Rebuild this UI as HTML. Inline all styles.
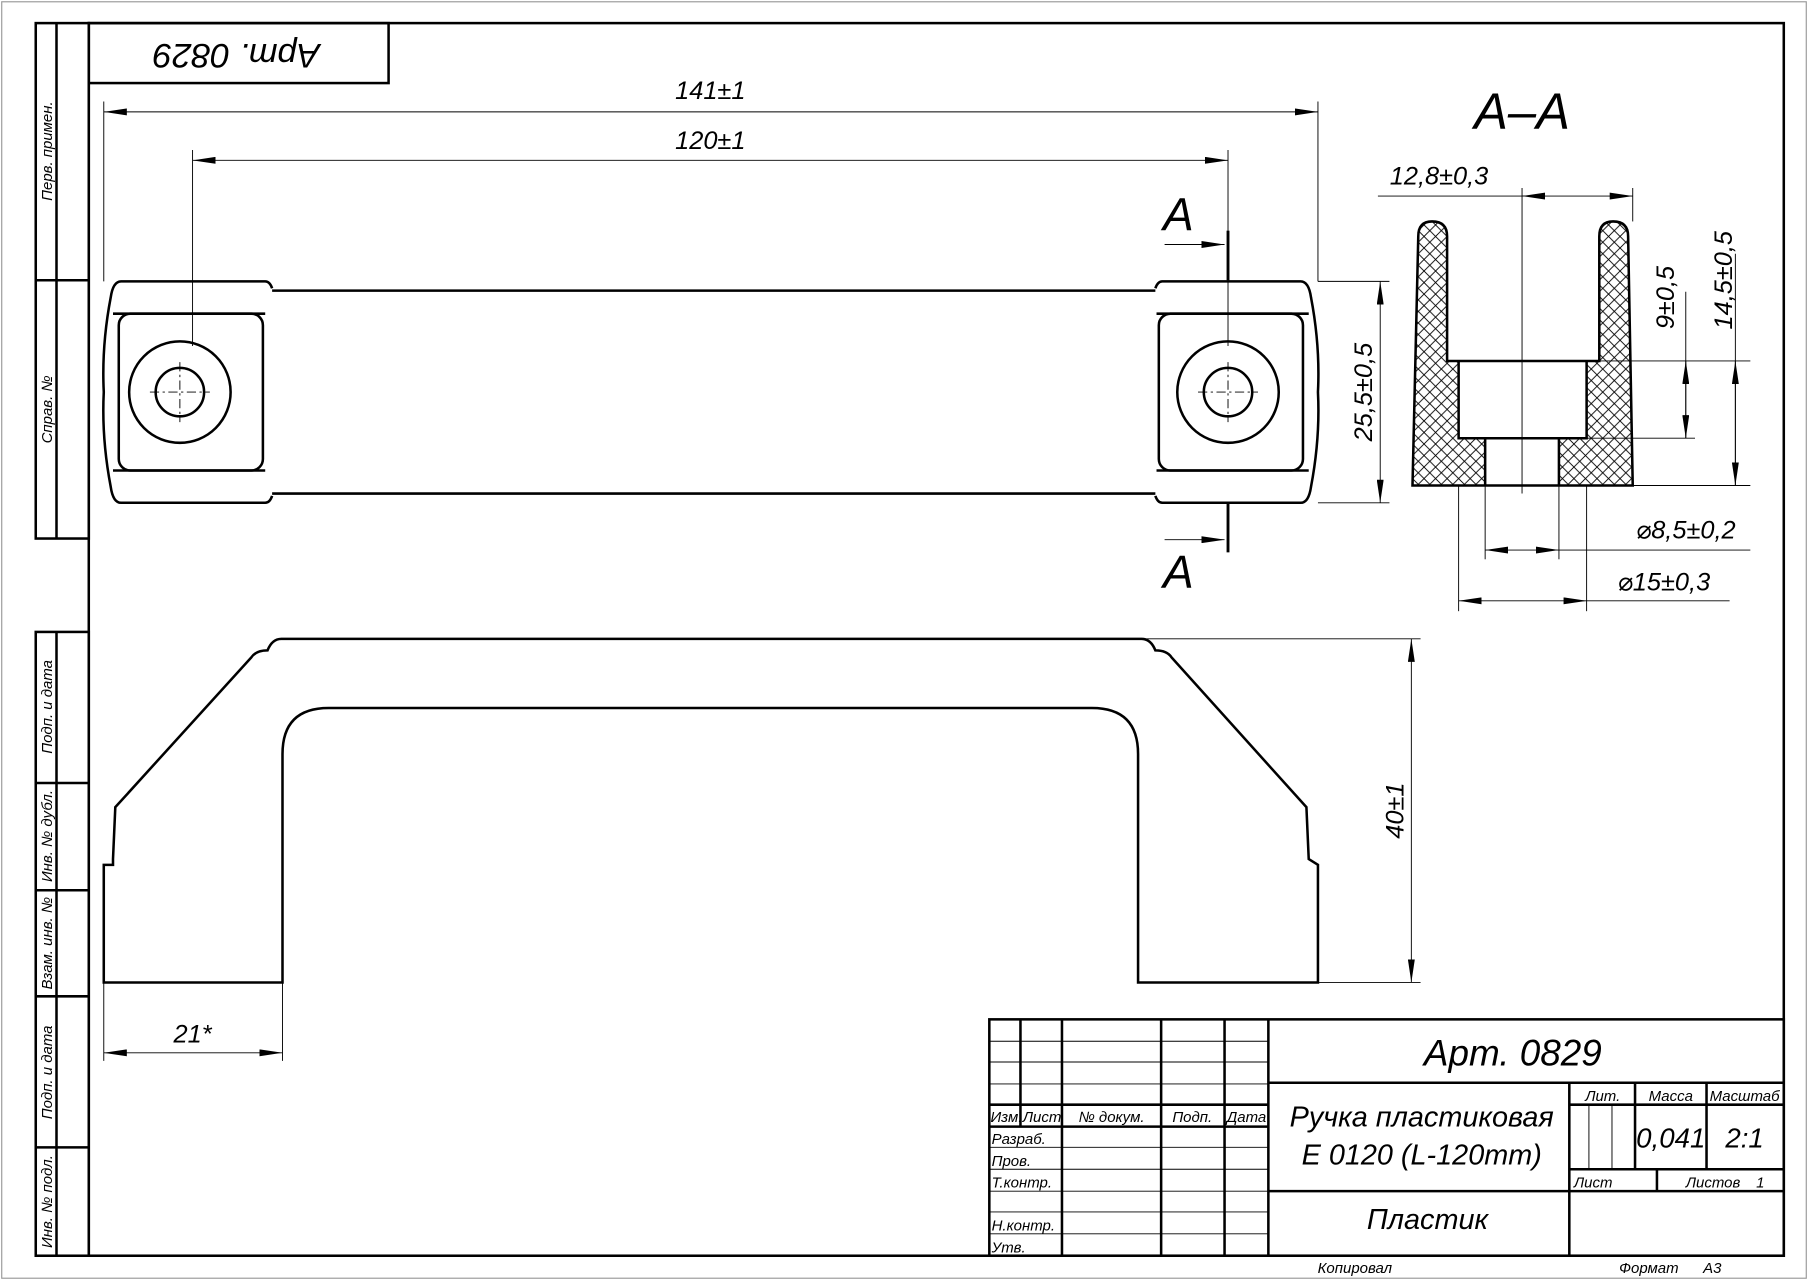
<!DOCTYPE html>
<html><head><meta charset="utf-8"><style>
html,body{margin:0;padding:0;background:#fff}
svg{display:block}
text{font-family:"Liberation Sans","DejaVu Sans",sans-serif;font-style:italic;fill:#000}
</style></head><body>
<svg width="1808" height="1280" viewBox="0 0 1568 1110" xmlns="http://www.w3.org/2000/svg">
<defs>
<pattern id="h" width="10" height="10" patternUnits="userSpaceOnUse">
<path d="M0 0L10 10M10 0L0 10" stroke="#000" stroke-width="0.8"/>
</pattern>
<marker id="ar" viewBox="0 0 20 6" refX="20" refY="3" markerWidth="20" markerHeight="6" orient="auto-start-reverse" markerUnits="userSpaceOnUse"><path d="M0 0L20 3L0 6z" fill="#000"/></marker>
</defs>
<rect x="1.5" y="1.5" width="1565" height="1107" fill="none" stroke="#999" stroke-width="1"/>
<g fill="none" stroke="#000" stroke-width="2.2">
<rect x="77" y="20" width="1470" height="1069"/>
<rect x="31" y="20" width="46" height="447"/>
<line x1="49" y1="20" x2="49" y2="467"/><line x1="31" y1="243" x2="77" y2="243"/>
<rect x="31" y="548" width="46" height="541"/>
<line x1="49" y1="548" x2="49" y2="1089"/>
<line x1="31" y1="679" x2="77" y2="679"/><line x1="31" y1="772" x2="77" y2="772"/>
<line x1="31" y1="864" x2="77" y2="864"/><line x1="31" y1="995" x2="77" y2="995"/>
<rect x="77" y="20" width="260" height="52"/>
</g>
<g font-size="13">
<text transform="translate(45,131) rotate(-90)" text-anchor="middle">Перв. примен.</text>
<text transform="translate(45,355) rotate(-90)" text-anchor="middle">Справ. №</text>
<text transform="translate(45,613) rotate(-90)" text-anchor="middle">Подп. и дата</text>
<text transform="translate(45,725) rotate(-90)" text-anchor="middle">Инв. № дубл.</text>
<text transform="translate(45,818) rotate(-90)" text-anchor="middle">Взам. инв. №</text>
<text transform="translate(45,930) rotate(-90)" text-anchor="middle">Подп. и дата</text>
<text transform="translate(45,1042) rotate(-90)" text-anchor="middle">Инв. № подл.</text>
</g>
<text transform="translate(205,38) rotate(180)" text-anchor="middle" font-size="30">Арт. 0829</text>

<!-- top view -->
<g fill="none" stroke="#000" stroke-width="2.2">
<path d="M230 244 L105 244 Q98 244 96 258 Q88 300 90 340 Q88 380 96 422 Q98 436 105 436 L230 436 Q234 436 236 430 M236 250 Q234 244 230 244"/>
<line x1="236" y1="252" x2="1002" y2="252"/><line x1="236" y1="428" x2="1002" y2="428"/>
<path d="M1008 244 L1128 244 Q1135 244 1137 258 Q1145 300 1143 340 Q1145 380 1137 422 Q1135 436 1128 436 L1008 436 Q1004 436 1002 430 M1002 250 Q1004 244 1008 244"/>
<rect x="103" y="272" width="125" height="136" rx="10"/>
<rect x="1005" y="272" width="125" height="136" rx="10"/>
<line x1="98" y1="272" x2="230" y2="272"/><line x1="98" y1="408" x2="230" y2="408"/>
<line x1="1003" y1="272" x2="1135" y2="272"/><line x1="1003" y1="408" x2="1135" y2="408"/>
<circle cx="156" cy="340" r="44"/><circle cx="156" cy="340" r="21"/>
<circle cx="1065" cy="340" r="44"/><circle cx="1065" cy="340" r="21"/>
</g>
<g stroke="#000" stroke-width="0.8" fill="none">
<path d="M130 340H182M156 314V366M1039 340H1091M1065 314V366" stroke-dasharray="8 3 2 3"/>
<line x1="90" y1="88" x2="90" y2="244"/><line x1="1143" y1="88" x2="1143" y2="244"/>
<line x1="167" y1="130" x2="167" y2="300"/><line x1="1065" y1="130" x2="1065" y2="300"/>
<line x1="90" y1="97" x2="1143" y2="97" marker-start="url(#ar)" marker-end="url(#ar)"/>
<line x1="167" y1="139" x2="1065" y2="139" marker-start="url(#ar)" marker-end="url(#ar)"/>
<line x1="1143" y1="244" x2="1205" y2="244"/><line x1="1143" y1="436" x2="1205" y2="436"/>
<line x1="1197" y1="244" x2="1197" y2="436" marker-start="url(#ar)" marker-end="url(#ar)"/>
<line x1="1010" y1="212" x2="1062" y2="212" marker-end="url(#ar)"/>
<line x1="1010" y1="468" x2="1062" y2="468" marker-end="url(#ar)"/>
</g>
<g stroke="#000" stroke-width="2.5"><line x1="1065" y1="200" x2="1065" y2="243"/><line x1="1065" y1="436" x2="1065" y2="479"/></g>
<g font-size="22">
<text x="616" y="86" text-anchor="middle">141±1</text>
<text x="616" y="129" text-anchor="middle">120±1</text>
<text transform="translate(1190,340) rotate(-90)" text-anchor="middle">25,5±0,5</text>
</g>
<text x="1022" y="200" font-size="40" font-style="normal" text-anchor="middle">A</text>
<text x="1022" y="510" font-size="40" font-style="normal" text-anchor="middle">A</text>

<!-- section A-A -->
<text x="1320" y="112" font-size="44" font-style="normal" text-anchor="middle">A–A</text>
<path d="M1225 421 L1230 205 Q1230 192 1242 192 Q1255 192 1255 205 L1255 313 L1387 313 L1387 205 Q1387 192 1399 192 Q1412 192 1412 205 L1416 421 Z" fill="url(#h)" stroke="none"/>
<rect x="1265" y="313" width="111" height="67" fill="#fff"/>
<rect x="1288" y="380" width="64" height="41" fill="#fff"/>
<g fill="none" stroke="#000" stroke-width="2.2">
<path d="M1225 421 L1230 205 Q1230 192 1242 192 Q1255 192 1255 205 L1255 313 L1387 313 L1387 205 Q1387 192 1399 192 Q1412 192 1412 205 L1416 421 Z"/>
<path d="M1265 313V380H1376V313M1288 380V421M1352 380V421"/>
</g>
<g stroke="#000" stroke-width="0.8" fill="none">
<line x1="1320" y1="163" x2="1320" y2="428"/>
<line x1="1416" y1="163" x2="1416" y2="192"/>
<line x1="1195" y1="170" x2="1416" y2="170" marker-end="url(#ar)"/>
<line x1="1320" y1="170" x2="1340" y2="170" marker-start="url(#ar)"/>
<line x1="1387" y1="313" x2="1518" y2="313"/><line x1="1376" y1="380" x2="1470" y2="380"/>
<line x1="1416" y1="421" x2="1518" y2="421"/>
<line x1="1462" y1="253" x2="1462" y2="380"/>
<line x1="1462" y1="313" x2="1462" y2="380" marker-start="url(#ar)" marker-end="url(#ar)"/>
<line x1="1505" y1="220" x2="1505" y2="421"/>
<line x1="1505" y1="313" x2="1505" y2="421" marker-start="url(#ar)" marker-end="url(#ar)"/>
<line x1="1288" y1="421" x2="1288" y2="485"/><line x1="1352" y1="421" x2="1352" y2="485"/>
<line x1="1265" y1="421" x2="1265" y2="530"/><line x1="1376" y1="421" x2="1376" y2="530"/>
<line x1="1288" y1="477" x2="1352" y2="477" marker-start="url(#ar)" marker-end="url(#ar)"/>
<line x1="1352" y1="477" x2="1518" y2="477"/>
<line x1="1265" y1="521" x2="1376" y2="521" marker-start="url(#ar)" marker-end="url(#ar)"/>
<line x1="1376" y1="521" x2="1500" y2="521"/>
</g>
<g font-size="22">
<text x="1248" y="160" text-anchor="middle">12,8±0,3</text>
<text transform="translate(1452,258) rotate(-90)" text-anchor="middle">9±0,5</text>
<text transform="translate(1502,243) rotate(-90)" text-anchor="middle">14,5±0,5</text>
<text x="1462" y="467" text-anchor="middle">⌀8,5±0,2</text>
<text x="1443" y="512" text-anchor="middle">⌀15±0,3</text>
</g>

<!-- front view -->
<g fill="none" stroke="#000" stroke-width="2.2">
<path d="M90 852 L90 750 L98 750 L98 745 L100 700 L218 570 Q222 564 232 564 Q236 554 244 554 L990 554 Q998 554 1002 564 Q1012 564 1016 570 L1133 700 L1135 745 L1135 745 L1143 750 L1143 852 L987 852 L987 654 Q987 614 947 614 L285 614 Q245 614 245 654 L245 852 Z"/>
</g>
<g stroke="#000" stroke-width="0.8" fill="none">
<line x1="993" y1="554" x2="1232" y2="554"/><line x1="1143" y1="852" x2="1232" y2="852"/>
<line x1="1224" y1="554" x2="1224" y2="852" marker-start="url(#ar)" marker-end="url(#ar)"/>
<line x1="90" y1="852" x2="90" y2="920"/><line x1="245" y1="852" x2="245" y2="920"/>
<line x1="90" y1="913" x2="245" y2="913" marker-start="url(#ar)" marker-end="url(#ar)"/>
</g>
<text transform="translate(1217,703) rotate(-90)" text-anchor="middle" font-size="22">40±1</text>
<text x="167" y="904" text-anchor="middle" font-size="22">21*</text>

<!-- title block -->
<g stroke="#000" stroke-width="0.8" fill="none">
<path d="M858 903H1100M858 921H1100M858 940H1100M858 995H1100M858 1014H1100M858 1033H1100M858 1051H1100M858 1070H1100"/>
<path d="M1378 958V1014M1398 958V1014"/>
</g>
<g stroke="#000" stroke-width="2.2" fill="none">
<rect x="858" y="884" width="689" height="205"/>
<path d="M885 884V977M921 884V1089M1007 884V1089M1062 884V1089M1100 884V1089"/>
<path d="M858 958H1100M858 977H1100"/>
<path d="M1100 939H1547M1100 1033H1547M1361 939V1089M1361 958H1547M1361 1014H1547"/>
<path d="M1418 939V1014M1480 939V1014M1437 1014V1033"/>
</g>
<g font-size="13">
<text x="859" y="973">Изм.</text><text x="887" y="973">Лист</text>
<text x="964" y="973" text-anchor="middle">№ докум.</text>
<text x="1034" y="973" text-anchor="middle">Подп.</text>
<text x="1081" y="973" text-anchor="middle">Дата</text>
<text x="860" y="992">Разраб.</text><text x="860" y="1011">Пров.</text>
<text x="860" y="1030">Т.контр.</text><text x="860" y="1067">Н.контр.</text>
<text x="860" y="1086">Утв.</text>
<text x="1390" y="955" text-anchor="middle">Лит.</text>
<text x="1449" y="955" text-anchor="middle">Масса</text>
<text x="1513" y="955" text-anchor="middle">Масштаб</text>
<text x="1365" y="1030">Лист</text><text x="1462" y="1030">Листов</text><text x="1523" y="1030">1</text>
<text x="1175" y="1104" text-anchor="middle">Копировал</text>
<text x="1430" y="1104" text-anchor="middle">Формат</text><text x="1485" y="1104" text-anchor="middle">А3</text>
</g>
<text x="1312" y="924" text-anchor="middle" font-size="32">Арт. 0829</text>
<text x="1233" y="977" text-anchor="middle" font-size="25">Ручка пластиковая</text>
<text x="1233" y="1010" text-anchor="middle" font-size="25">E 0120 (L-120mm)</text>
<text x="1238" y="1066" text-anchor="middle" font-size="25">Пластик</text>
<text x="1449" y="995" text-anchor="middle" font-size="24">0,041</text>
<text x="1513" y="995" text-anchor="middle" font-size="24">2:1</text>
</svg>
</body></html>
